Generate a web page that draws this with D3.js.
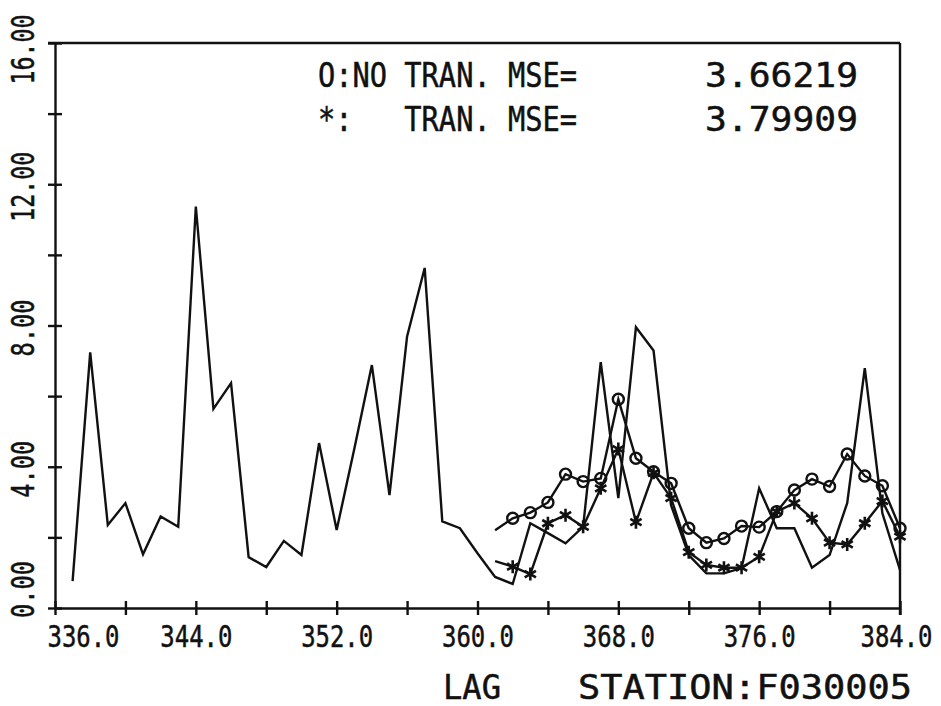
<!DOCTYPE html>
<html>
<head>
<meta charset="utf-8">
<script src="https://cdnjs.cloudflare.com/ajax/libs/d3/7.8.5/d3.min.js"></script>
<style>
  body { margin: 0; background: #fff; }
  text { font-family: "DejaVu Sans Mono", "Liberation Mono", monospace; fill: #111; stroke: #111; stroke-width: 0.5; }
  .axis path, .axis line { stroke: #111; stroke-width: 2.4; }
  .series { fill: none; stroke: #111; stroke-width: 2.4; stroke-linejoin: miter; }
</style>
</head>
<body>
<svg id="chart" width="941" height="706"></svg>
<script>
// observed series, lag 337..384
var obsLags = [337,338,339,340,341,342,343,344,345,346,347,348,349,350,351,352,353,354,355,356,357,358,359,360,
               361,362,363,364,365,366,367,368,369,370,371,372,373,374,375,376,377,378,379,380,381,382,383,384];
var observed = [0.76,7.24,2.35,2.97,1.52,2.59,2.30,11.37,5.64,6.37,1.44,1.16,1.90,1.50,4.67,2.21,4.50,6.88,3.20,7.69,9.63,2.45,2.26,1.55,
                0.88,0.68,2.40,2.12,1.83,2.30,6.96,3.11,7.95,7.29,2.90,1.50,0.98,0.98,1.13,3.39,2.26,2.26,1.14,1.50,2.97,6.79,2.68,1.08];

// forecasts, lag 361..384 (first point drawn without marker)
var fcLags = [361,362,363,364,365,366,367,368,369,370,371,372,373,374,375,376,377,378,379,380,381,382,383,384];
var noTran = [2.20,2.54,2.70,2.99,3.79,3.58,3.67,5.91,4.24,3.86,3.53,2.26,1.85,1.97,2.32,2.29,2.73,3.34,3.65,3.44,4.36,3.74,3.46,2.26];
var tran   = [1.33,1.17,0.96,2.40,2.63,2.30,3.39,4.50,2.43,3.83,3.11,1.58,1.22,1.14,1.14,1.45,2.73,2.97,2.54,1.85,1.80,2.40,3.03,2.02];

var xTicks = [336,340,344,348,352,356,360,364,368,372,376,380,384];
var xLabels = [336,344,352,360,368,376,384];
var yTicks = [0,2,4,6,8,10,12,14,16];
var yLabels = [0,4,8,12,16];

var legendRows = ["O:NO TRAN. MSE=", "*:   TRAN. MSE="];
var legendValues = ["3.66219", "3.79909"];
var xTitle = "LAG";
var stationTitle = "STATION:F030005";

var margins = {top: 43, right: 41, bottom: 98, left: 55},
    W = 941, H = 706;

var svg = d3.select("#chart");

var x = d3.scaleLinear().domain([336, 384]).range([margins.left, W - margins.right]);
var y = d3.scaleLinear().domain([0, 16]).range([H - margins.bottom, margins.top]);

// asterisk marker
var star = {
    draw: function(ctx, size) {
        var r = Math.sqrt(size) / 2;
        for (var k = 0; k < 3; k++) {
            var a = Math.PI / 2 + k * Math.PI / 3;
            ctx.moveTo(r * Math.cos(a), r * Math.sin(a));
            ctx.lineTo(-r * Math.cos(a), -r * Math.sin(a));
        }
    }
};

/* frame: top and right */
svg.append("line")
    .attr("x1", x(336) - 7).attr("x2", x(384))
    .attr("y1", y(16)).attr("y2", y(16))
    .attr("stroke", "#111").attr("stroke-width", 2.4);
svg.append("line")
    .attr("x1", x(384)).attr("x2", x(384))
    .attr("y1", y(16)).attr("y2", y(0) + 7)
    .attr("stroke", "#111").attr("stroke-width", 2.4);

/* x axis */
var xg = svg.append("g")
    .attr("class", "axis")
    .attr("transform", "translate(0," + y(0) + ")")
    .call(d3.axisBottom(x).tickValues(xTicks).tickSize(7).tickSizeOuter(0).tickFormat(""));
xg.selectAll(".tick line").attr("y1", -7).attr("y2", 7);

var xl = svg.append("g")
    .attr("transform", "translate(0," + y(0) + ")")
    .call(d3.axisBottom(x).tickValues(xLabels).tickSize(0).tickFormat(d3.format(".1f")));
xl.select(".domain").remove();
xl.selectAll("text")
    .attr("y", 39).attr("dy", null)
    .attr("font-size", 31)
    .attr("textLength", 72)
    .attr("lengthAdjust", "spacingAndGlyphs")
    .attr("text-anchor", function(d) { return d === 336 ? "start" : (d === 384 ? "end" : "middle"); })
    .attr("x", function(d) { return d === 336 ? -8 : (d === 384 ? 32 : 0); })
    .attr("fill", "#111");

/* y axis */
var yg = svg.append("g")
    .attr("class", "axis")
    .attr("transform", "translate(" + x(336) + ",0)")
    .call(d3.axisLeft(y).tickValues(yTicks).tickSize(7).tickSizeOuter(0).tickFormat(""));
yg.selectAll(".tick line").attr("x1", -7).attr("x2", 7);

var yl = svg.append("g")
    .attr("transform", "translate(" + x(336) + ",0)")
    .call(d3.axisLeft(y).tickValues(yLabels).tickSize(0).tickFormat(d3.format(".2f")));
yl.select(".domain").remove();
yl.selectAll("text")
    .attr("transform", "rotate(-90)")
    .attr("text-anchor", "middle")
    .attr("dy", null)
    .attr("y", -21)
    .attr("x", function(d) { return d === 0 ? 19 : (d === 16 ? -6 : -2); })
    .attr("font-size", 32)
    .attr("textLength", function(d) { return d >= 10 ? 70 : 57; })
    .attr("lengthAdjust", "spacingAndGlyphs")
    .attr("fill", "#111");

/* series */
var line = d3.line()
    .x(function(d) { return x(d.lag); })
    .y(function(d) { return y(d.v); });

function pairs(lags, vals) {
    return lags.map(function(l, i) { return {lag: l, v: vals[i]}; });
}

var obs = pairs(obsLags, observed),
    s0 = pairs(fcLags, noTran),
    s1 = pairs(fcLags, tran);

svg.append("path").attr("class", "series").attr("d", line(obs));
svg.append("path").attr("class", "series").attr("d", line(s0));
svg.append("path").attr("class", "series").attr("d", line(s1));

svg.selectAll("circle.mk")
    .data(s0.slice(1))
    .enter().append("circle")
    .attr("class", "mk")
    .attr("cx", function(d) { return x(d.lag); })
    .attr("cy", function(d) { return y(d.v); })
    .attr("r", 5.5)
    .attr("fill", "none")
    .attr("stroke", "#111")
    .attr("stroke-width", 2.4);

svg.selectAll("path.mk")
    .data(s1.slice(1))
    .enter().append("path")
    .attr("class", "mk")
    .attr("transform", function(d) { return "translate(" + x(d.lag) + "," + y(d.v) + ")"; })
    .attr("d", d3.symbol().type(star).size(169))
    .attr("fill", "none")
    .attr("stroke", "#111")
    .attr("stroke-width", 2.6);

/* legend text */
var leg = svg.append("g");
legendRows.forEach(function(t, i) {
    leg.append("text")
        .attr("x", 318).attr("y", 87 + i * 44)
        .attr("font-size", 34)
        .attr("textLength", 259)
        .attr("lengthAdjust", "spacingAndGlyphs")
        .style("white-space", "pre")
        .text(t);
    leg.append("text")
        .attr("x", 858).attr("y", 87 + i * 44)
        .attr("text-anchor", "end")
        .attr("font-size", 34)
        .attr("textLength", 153)
        .attr("lengthAdjust", "spacingAndGlyphs")
        .text(legendValues[i]);
});

/* titles */
svg.append("text")
    .attr("x", 443).attr("y", 699)
    .attr("font-size", 33)
    .attr("textLength", 58)
    .attr("lengthAdjust", "spacingAndGlyphs")
    .text(xTitle);
svg.append("text")
    .attr("x", 578).attr("y", 699)
    .attr("font-size", 33)
    .attr("textLength", 334)
    .attr("lengthAdjust", "spacingAndGlyphs")
    .text(stationTitle);
</script>
</body>
</html>
